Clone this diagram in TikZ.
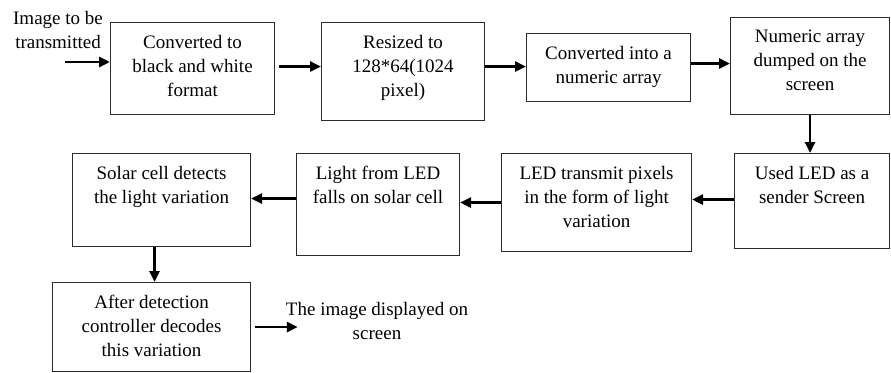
\documentclass[tikz,border=0pt]{standalone}
\usepackage{fontspec}
\setmainfont{Liberation Serif}
\usetikzlibrary{arrows.meta}
\definecolor{BoxLine}{HTML}{2B2B2B}

\begin{document}
\begin{tikzpicture}[
    x=1pt, y=-1pt,
    box/.style={
      draw=BoxLine,
      line width=1.1pt,
      anchor=north west,
      inner sep=0pt
    },
    lbl/.style={align=center, inner sep=0pt, font=\fontsize{19}{24}\selectfont},
    txt/.style={lbl, anchor=north, yshift=-13pt},
    flow/.style={-{Triangle[length=11pt,width=10pt]}, line width=2.8pt, draw=black}
  ]
  \useasboundingbox (0,0) rectangle (891,372);

  % top row
  \node[lbl] (img) at (58,30) {Image to be\\transmitted};
  \node[box, minimum width=164, minimum height=92,
    label={[txt]north:Converted to\\black and white\\format}] (bw) at (110,22) {};
  \node[box, minimum width=163, minimum height=98,
    label={[txt]north:Resized to\\128*64(1024\\pixel)}] (rs) at (321,22) {};
  \node[box, minimum width=164, minimum height=68,
    label={[txt]north:Converted into a\\numeric array}] (num) at (526,33) {};
  \node[box, minimum width=159, minimum height=97,
    label={[txt]north:Numeric array\\dumped on the\\screen}] (dump) at (730,17) {};

  % middle row
  \node[box, minimum width=155, minimum height=95,
    label={[txt]north:Used LED as a\\sender Screen}] (used) at (734,153) {};
  \node[box, minimum width=190, minimum height=98,
    label={[txt]north:LED transmit pixels\\in the form of light\\variation}] (ledtx) at (501,153) {};
  \node[box, minimum width=163, minimum height=102,
    label={[txt]north:Light from LED\\falls on solar cell}] (light) at (296,153) {};
  \node[box, minimum width=178, minimum height=93,
    label={[txt]north:Solar cell detects\\the light variation}] (solar) at (72,153) {};

  % bottom row
  \node[box, minimum width=198, minimum height=89,
    label={[txt]north:After detection\\controller decodes\\this variation}] (dec) at (52,282) {};
  \node[lbl] (out) at (377,321) {The image displayed on\\screen};

  \coordinate (src) at (65,62);
  \draw[flow] (src) -- (src -| bw.west);
  \draw[flow, shorten <=4pt] ([yshift=2pt]bw.east) -- ([yshift=2pt]bw.east -| rs.west);
  \draw[flow] ([yshift=5pt]rs.east) -- ([yshift=5pt]rs.east -| num.west);
  \draw[flow] ([yshift=4pt]num.east) -- ([yshift=4pt]num.east -| dump.west);
  \draw[flow] (dump.south) -- (dump.south |- used.north);
  \draw[flow] ([yshift=1.5pt]used.west) -- ([yshift=1.5pt]used.west -| ledtx.east);
  \draw[flow] (ledtx.west) -- (ledtx.west -| light.east);
  \draw[flow] ([yshift=6pt]light.west) -- ([yshift=6pt]light.west -| solar.east);
  \draw[flow] ([xshift=3pt]dec.north |- solar.south) -- ([xshift=3pt]dec.north);
  \draw[flow, shorten <=4pt] (dec.east) -- ([xshift=12pt]dec.east -| out.west);
\end{tikzpicture}
\end{document}
